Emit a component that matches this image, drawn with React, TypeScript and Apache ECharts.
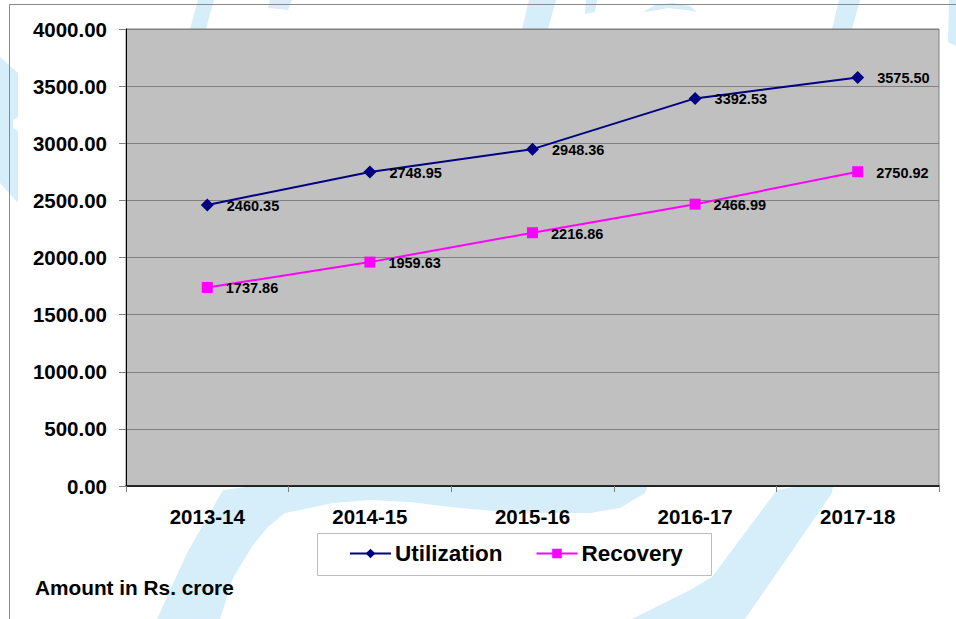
import React, { useEffect, useRef } from "react";
import * as echarts from "echarts";

const categories = ["2013-14", "2014-15", "2015-16", "2016-17", "2017-18"];
const utilization = [2460.35, 2748.95, 2948.36, 3392.53, 3575.5];
const recovery = [1737.86, 1959.63, 2216.86, 2466.99, 2750.92];
const seriesNames = ["Utilization", "Recovery"];
const yMin = 0;
const yMax = 4000;
const yStep = 500;
const noteText = "Amount in Rs. crore";

const FONT = '"Liberation Sans", Arial, Helvetica, sans-serif';
const WM = "#D5EEFA";

const watermarkShapes: number[][][] = [
  // left edge shape
  [[0, 57], [18, 73], [18, 117], [13, 120], [13, 128], [18, 131], [18, 203], [0, 183]],
  // bottom-left band curving into an arc under the axis
  [
    [157, 619], [187, 553], [223, 490], [300, 480], [650, 480], [645, 493],
    [620, 508], [590, 513], [540, 513], [493, 511], [450, 507], [410, 502],
    [370, 500], [333, 503], [300, 510], [285, 513], [268, 527], [253, 545],
    [233, 578], [220, 619],
  ],
  // bottom-right diagonal band
  [[632, 619], [690, 590], [712, 577], [777, 490], [834, 480], [832, 493], [745, 619]],
  // right edge strip
  [[949, 0], [956, 0], [956, 46], [948, 42]],
  // top strips
  [[198, 0], [214, 0], [206, 29], [190, 29]],
  [[270, 0], [292, 0], [288, 10], [268, 8]],
  [[529, 0], [556, 0], [548, 29], [522, 29]],
  [[586, 0], [597, 0], [595, 12], [585, 14]],
  [[643, 12], [655, 5], [672, 3], [690, 6], [697, 12], [686, 10], [668, 8], [652, 11]],
  [[839, 0], [860, 0], [852, 29], [832, 29]],
];

export default function App() {
  const ref = useRef<HTMLDivElement>(null);

  useEffect(() => {
    if (!ref.current) return;
    const chart = echarts.init(ref.current, undefined, { renderer: "svg" });

    const labelStyle = {
      show: true,
      position: "right" as const,
      distance: 12,
      offset: [1, 1],
      color: "#000",
      fontFamily: FONT,
      fontWeight: "bold" as const,
      fontSize: 14.5,
      formatter: (p: any) => Number(p.value).toFixed(2),
    };

    const graphics: any[] = watermarkShapes.map((pts) => ({
      type: "polygon",
      z: -10,
      silent: true,
      shape: { points: pts },
      style: { fill: WM, stroke: "none" },
    }));
    graphics.push(
      {
        type: "line",
        z: -8,
        shape: { x1: 9.5, y1: 4.5, x2: 9.5, y2: 619 },
        style: { stroke: "#8a8a8a", lineWidth: 1 },
      },
      {
        type: "line",
        z: -8,
        shape: { x1: 9.5, y1: 4.5, x2: 956, y2: 4.5 },
        style: { stroke: "#8a8a8a", lineWidth: 1 },
      },
      {
        type: "rect",
        z: -5,
        shape: { x: 317.5, y: 533.5, width: 394, height: 42 },
        style: { fill: "#ffffff", stroke: "#BDBDBD", lineWidth: 1 },
      },
      {
        type: "text",
        left: 35,
        top: 577,
        style: {
          text: noteText,
          fill: "#000",
          font: `bold 20.8px ${FONT}`,
        },
      }
    );

    chart.setOption({
      animation: false,
      backgroundColor: "transparent",
      textStyle: { fontFamily: FONT },
      grid: {
        left: 126,
        top: 29,
        right: 17,
        bottom: 133,
        show: true,
        backgroundColor: "#C0C0C0",
        borderColor: "#808080",
        borderWidth: 1,
        containLabel: false,
      },
      legend: {
        data: seriesNames,
        left: 349,
        top: 542,
        padding: 0,
        itemWidth: 41,
        itemHeight: 12,
        itemGap: 33,
        textStyle: {
          color: "#000",
          fontFamily: FONT,
          fontWeight: "bold",
          fontSize: 22.5,
          lineHeight: 22,
          padding: [0, 0, 0, -1],
        },
      },
      xAxis: {
        type: "category",
        data: categories,
        boundaryGap: true,
        axisLine: { show: true, lineStyle: { color: "#000", width: 1.5 } },
        axisTick: { show: true, interval: 0, length: 6, lineStyle: { color: "#808080" } },
        axisLabel: {
          interval: 0,
          margin: 20,
          color: "#000",
          fontFamily: FONT,
          fontWeight: "bold",
          fontSize: 20.5,
        },
        splitLine: { show: false },
      },
      yAxis: {
        type: "value",
        min: yMin,
        max: yMax,
        interval: yStep,
        axisLine: { show: true, lineStyle: { color: "#000", width: 1 } },
        axisTick: { show: true, length: 7, lineStyle: { color: "#808080" } },
        axisLabel: {
          margin: 19,
          color: "#000",
          fontFamily: FONT,
          fontWeight: "bold",
          fontSize: 20.5,
          formatter: (v: number) => v.toFixed(2),
        },
        splitLine: { show: true, lineStyle: { color: "#808080", width: 1 } },
      },
      series: [
        {
          name: seriesNames[0],
          type: "line",
          data: utilization,
          symbol: "diamond",
          symbolSize: 13,
          lineStyle: { color: "#000080", width: 2 },
          itemStyle: { color: "#000080" },
          label: labelStyle,
        },
        {
          name: seriesNames[1],
          type: "line",
          data: recovery,
          symbol: "rect",
          symbolSize: 11,
          lineStyle: { color: "#FF00FF", width: 2 },
          itemStyle: { color: "#FF00FF" },
          label: labelStyle,
        },
      ],
      graphic: graphics,
    });

    return () => chart.dispose();
  }, []);

  return (
    <div
      ref={ref}
      style={{ position: "fixed", left: 0, top: 0, width: 956, height: 619, background: "#fff" }}
    />
  );
}
